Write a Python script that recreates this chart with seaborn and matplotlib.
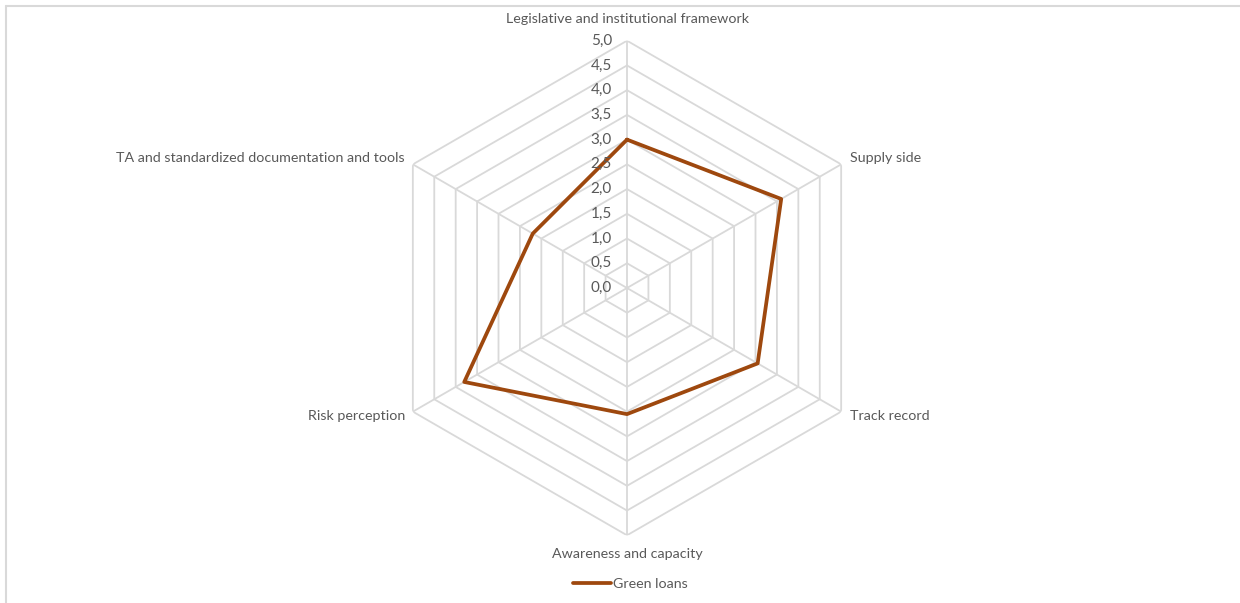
import numpy as np
import pandas as pd
import seaborn as sns
import matplotlib.pyplot as plt
from matplotlib.lines import Line2D

# chart data
categories = ["Legislative and institutional framework", "Supply side", "Track record",
              "Awareness and capacity", "Risk perception",
              "TA and standardized documentation and tools"]
green_loans = [3.0, 3.6, 3.05, 2.55, 3.8, 2.2]
levels = [0.5, 1.0, 1.5, 2.0, 2.5, 3.0, 3.5, 4.0, 4.5, 5.0]
tick_labels = ["0,0", "0,5", "1,0", "1,5", "2,0", "2,5", "3,0", "3,5", "4,0", "4,5", "5,0"]
series_name = "Green loans"

sns.set_style("white")
plt.rcParams['font.family'] = ['Lato', 'DejaVu Sans']
text_color = "#595959"
grid_color = "#D9D9D9"
line_color = "#9E480E"

fig = plt.figure(figsize=(12.4, 6.03), dpi=100)
ax = fig.add_axes([0.3062, 0.1123, 0.3989, 0.8202], projection="polar")
ax.set_theta_offset(np.pi / 2)
ax.set_theta_direction(-1)
ax.set_ylim(0, 5)
ax.grid(False)
ax.spines["polar"].set_visible(False)
ax.set_xticks([])
ax.set_yticks([])
ax.set_facecolor("none")

n = len(categories)
angles = np.linspace(0, 2 * np.pi, n, endpoint=False)
closed = np.append(angles, angles[0])

# hexagonal grid
for lv in levels:
    ax.plot(closed, [lv] * (n + 1), color=grid_color, lw=1.3, zorder=1)
for a in angles:
    ax.plot([a, a], [0, 5], color=grid_color, lw=1.3, zorder=1)

# series (closed polygon, no aggregation of the repeated angle)
df = pd.DataFrame({"angle": closed, "value": green_loans + green_loans[:1]})
sns.lineplot(data=df, x="angle", y="value", sort=False, estimator=None, ax=ax,
             color=line_color, lw=2.7, zorder=3)
ax.set_xlabel("")
ax.set_ylabel("")

# value ticks along the top spoke
vals = [0.0] + levels
for v, t in zip(vals, tick_labels):
    ax.annotate(t, (0, v), xytext=(-15, 0), textcoords="offset pixels",
                ha="right", va="center", fontsize=11, color=text_color)

# category labels
offsets = [(0, 22, "center"), (9, 6, "left"), (9, -4, "left"),
           (0, -19, "center"), (-8, -4, "right"), (-8, 6, "right")]
for a, c, (dx, dy, ha) in zip(angles, categories, offsets):
    ax.annotate(c, (a, 5), xytext=(dx, dy), textcoords="offset pixels",
                ha=ha, va="center", fontsize=10.3, color=text_color)

# legend
handle = Line2D([], [], color=line_color, lw=2.7)
fig.legend([handle], [series_name], loc="center", bbox_to_anchor=(630 / 1240, 1 - 584 / 603),
           frameon=False, fontsize=10.3, labelcolor=text_color,
           handlelength=2.7, handletextpad=0.1)

# chart border
fig.add_artist(Line2D([6 / 1240, 1], [1 - 6 / 603, 1 - 6 / 603], color=grid_color, lw=1.5))
fig.add_artist(Line2D([6 / 1240, 6 / 1240], [0, 1 - 6 / 603], color=grid_color, lw=1.5))

fig.savefig("out.png", dpi=100, facecolor="white")
